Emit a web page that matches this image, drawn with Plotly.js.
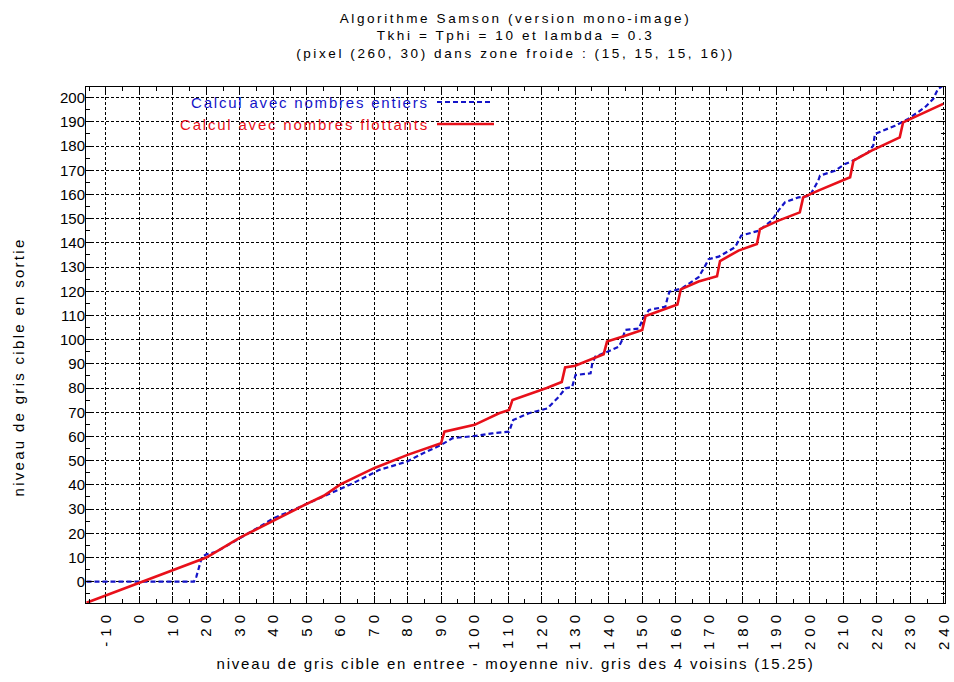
<!DOCTYPE html>
<html>
<head>
<meta charset="utf-8">
<script src="https://cdn.plot.ly/plotly-3.0.1.min.js"></script>
<style>
  html, body { margin: 0; padding: 0; background: #fff; }
  #chart { width: 954px; height: 682px; }
  .gtitle { letter-spacing: 2.6px; }
  .g-xtitle text, .annotation-text { letter-spacing: 1.8px; }
  .annotation[data-index="2"] .annotation-text { letter-spacing: 2.3px; }
  .xtick text { letter-spacing: 5px; }
</style>
</head>
<body>
<div id="chart"></div>
<script>
// Float computation (red)
const xFloat = [-15.75, 0, 20, 30, 40, 49, 55, 60, 70, 80, 90, 91, 100, 107.3, 110.3, 111.3, 121.5, 126, 127, 130, 138.5, 139.5, 144, 150, 151, 160.5, 161.5, 166.8, 172.3, 173.2, 178.7, 184.2, 185.1, 190.6, 197, 198, 202.5, 212, 213, 218.4, 226.8, 227.8, 239.75];
const yFloat = [-8.7, -0.5, 10, 18.2, 25.3, 31.5, 35.5, 40.2, 46.9, 52.4, 57.2, 62, 64.8, 69.6, 71, 75.1, 80, 82.5, 88.5, 89.2, 94, 99.2, 101.2, 104, 109.8, 114.5, 120.8, 124, 126.2, 132.5, 136.8, 139.5, 145.7, 149.2, 152.6, 158.8, 161.6, 167.1, 174, 178.1, 183.6, 189.8, 197.4];

// Integer computation (blue)
const xInt = [-15.75, 16.3, 17, 17.8, 18.7, 20, 23, 35, 40, 47, 56.7, 63.6, 71.6, 79.8, 84.5, 90, 93.4, 100, 105.3, 110.3, 111.5, 116.2, 121.7, 125.1, 127.1, 129.1, 130.1, 134.6, 135.1, 136, 139.6, 143, 144, 144.9, 149, 150, 152, 156.9, 157.5, 158.1, 161.8, 165.8, 166.8, 168.8, 169.8, 172.8, 177.7, 179, 179.5, 184.7, 188.6, 190.6, 192.6, 196.6, 200, 202.5, 203, 207.5, 210.5, 212.5, 217.4, 218.9, 219.4, 225.4, 227.4, 229.3, 234.3, 236.8, 238.2, 239.75];
const yInt = [0, 0, 2, 6.5, 10.3, 11.3, 12.4, 22, 26.2, 30.3, 36.5, 40.6, 46.2, 49.6, 53, 56.5, 59.3, 60.2, 61.3, 62, 66.8, 69.6, 71.6, 76.4, 79.9, 80.5, 85.4, 86.1, 90.2, 93, 95, 97.1, 99.8, 104, 104.6, 108, 112.3, 113.6, 117, 119.8, 121.2, 124.7, 125.8, 130.6, 133.3, 134.3, 138.2, 141.6, 143, 145, 149.2, 153.3, 156.8, 158.8, 159.5, 165.7, 167.8, 169.8, 172.6, 173.7, 177.4, 180.2, 185, 188.4, 189.8, 191.2, 196, 199.5, 203.6, 205];

// Tick labels
const xTickVals = [-10, 0, 10, 20, 30, 40, 50, 60, 70, 80, 90, 100, 110, 120, 130, 140, 150, 160, 170, 180, 190, 200, 210, 220, 230, 240];
const xTickText = ["-10", "0", "10", "20", "30", "40", "50", "60", "70", "80", "90", "100", "110", "120", "130", "140", "150", "160", "170", "180", "190", "200", "210", "220", "230", "240"];

const seriesNames = ["Calcul avec nombres entiers", "Calcul avec nombres flottants"];
const titleLines = ["Algorithme Samson (version mono-image)", "Tkhi = Tphi = 10 et lambda = 0.3", "(pixel (260, 30) dans zone froide : (15, 15, 15, 16))"];
const xTitle = "niveau de gris cible en entree - moyenne niv. gris des 4 voisins (15.25)";
const yTitle = "niveau de gris cible en sortie";

const BLUE = "#1414c8";
const RED = "#e8101a";
const FONT = "Liberation Sans, Arial, sans-serif";

const traces = [
  { x: xInt, y: yInt, type: "scatter", mode: "lines", name: seriesNames[0],
    line: { color: BLUE, width: 2.2, dash: "5px,3px" }, showlegend: false },
  { x: xFloat, y: yFloat, type: "scatter", mode: "lines", name: seriesNames[1],
    line: { color: RED, width: 2.6 }, showlegend: false }
];

// pixel helpers for paper coordinates of legend decorations
const L = 86, R = 9, T = 87, B = 79, W = 954, H = 682;
const pw = W - L - R, ph = H - T - B;
const px = p => (p - L) / pw;
const py = q => (H - B - q) / ph;

const axisCommon = {
  showline: true, linecolor: "#000", linewidth: 1, mirror: "allticks",
  ticks: "inside", ticklen: 7, tickcolor: "#000", tickwidth: 1,
  showgrid: true, gridcolor: "#000", gridwidth: 1, griddash: "3px,2px",
  zeroline: false,
  minor: { ticks: "inside", ticklen: 4, dtick: 5, tick0: 0, tickcolor: "#000", showgrid: false },
  tickfont: { family: FONT, size: 15, color: "#000" }
};

const layout = {
  width: W, height: H,
  margin: { l: L, r: R, t: T, b: B },
  paper_bgcolor: "#fff", plot_bgcolor: "#fff",
  showlegend: false,
  title: {
    text: titleLines.join("<br>"),
    font: { family: FONT, size: 13.5, color: "#000" },
    x: 0.5, xref: "paper", xanchor: "center",
    y: 1 - 22.5 / H, yref: "container", yanchor: "middle"
  },
  xaxis: Object.assign({}, axisCommon, {
    range: [-15.9, 240.3],
    tickmode: "array", tickvals: xTickVals, ticktext: xTickText,
    tickangle: -90,
    title: { text: xTitle, font: { family: FONT, size: 15, color: "#000" }, standoff: 9 }
  }),
  yaxis: Object.assign({}, axisCommon, {
    range: [-8.8, 204.4],
    dtick: 10, tick0: 0,
    ticklabelstandoff: -3
  }),
  shapes: [
    // legend area hides part of the grid in the reference
    { type: "rect", xref: "paper", yref: "paper", x0: px(86.5), x1: px(170), y0: py(131), y1: py(94),
      fillcolor: "#fff", line: { width: 0 }, layer: "between" },
    { type: "line", xref: "paper", yref: "paper", x0: px(86.5), x1: px(500), y0: py(98), y1: py(98),
      line: { color: "#fff", width: 3 }, layer: "between" },
    { type: "line", xref: "paper", yref: "paper", x0: px(86.5), x1: px(500), y0: py(122.3), y1: py(122.3),
      line: { color: "#fff", width: 3 }, layer: "between" },
    // legend samples
    { type: "line", xref: "paper", yref: "paper", x0: px(437), x1: px(490), y0: py(102), y1: py(102),
      line: { color: BLUE, width: 2.2, dash: "5px,3px" } },
    { type: "line", xref: "paper", yref: "paper", x0: px(437), x1: px(494), y0: py(124), y1: py(124),
      line: { color: RED, width: 2.6 } }
  ],
  annotations: [
    { xref: "paper", yref: "paper", x: px(431), y: py(102), xanchor: "right", yanchor: "middle",
      text: seriesNames[0], showarrow: false, font: { family: FONT, size: 15, color: BLUE } },
    { xref: "paper", yref: "paper", x: px(431), y: py(124), xanchor: "right", yanchor: "middle",
      text: seriesNames[1], showarrow: false, font: { family: FONT, size: 15, color: RED } },
    // y axis title
    { xref: "paper", yref: "paper", x: px(18), y: py(367), xanchor: "center", yanchor: "middle",
      textangle: -90, text: yTitle, showarrow: false, font: { family: FONT, size: 15, color: "#000" } }
  ]
};

Plotly.newPlot("chart", traces, layout, { staticPlot: true, displayModeBar: false });
</script>
</body>
</html>
